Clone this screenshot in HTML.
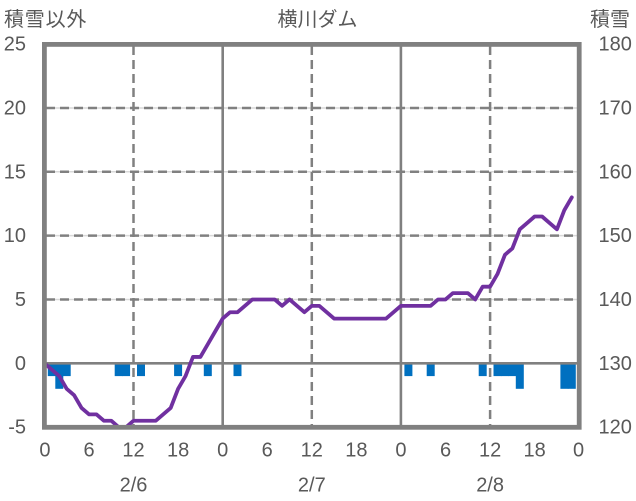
<!DOCTYPE html>
<html><head><meta charset="utf-8"><style>
html,body{margin:0;padding:0;background:#fff;}
svg{display:block;}
text{font-family:"Liberation Sans","Noto Sans CJK JP",sans-serif;fill:#595959;font-size:20px;}
.cjk{font-family:"Noto Sans CJK JP","Liberation Sans",sans-serif;}
</style></head><body>
<svg width="636" height="501" viewBox="0 0 636 501" xmlns="http://www.w3.org/2000/svg">
<rect width="636" height="501" fill="#fff"/>
<!-- horizontal grid -->
<g stroke="#d9d9d9" stroke-width="1.5">
<line x1="44.4" y1="108.0" x2="579.2" y2="108.0"/>
<line x1="44.4" y1="171.8" x2="579.2" y2="171.8"/>
<line x1="44.4" y1="235.6" x2="579.2" y2="235.6"/>
<line x1="44.4" y1="299.5" x2="579.2" y2="299.5"/>
</g>
<g stroke="#808080" stroke-width="2.5" stroke-dasharray="9 5">
<line x1="46" y1="108.0" x2="579.2" y2="108.0"/>
<line x1="46" y1="171.8" x2="579.2" y2="171.8"/>
<line x1="46" y1="235.6" x2="579.2" y2="235.6"/>
<line x1="46" y1="299.5" x2="579.2" y2="299.5"/>
<line x1="133.5" y1="46" x2="133.5" y2="427"/>
<line x1="311.8" y1="46" x2="311.8" y2="427"/>
<line x1="490.1" y1="46" x2="490.1" y2="427"/>
</g>
<g stroke="#808080" stroke-width="2.6">
<line x1="222.7" y1="44.4" x2="222.7" y2="427.2"/>
<line x1="400.9" y1="44.4" x2="400.9" y2="427.2"/>
</g>
<!-- bars -->
<g fill="#0070C0">
<rect x="47.8" y="363.3" width="8" height="12.8"/>
<rect x="55.3" y="363.3" width="8" height="25.5"/>
<rect x="62.7" y="363.3" width="8" height="12.8"/>
<rect x="114.7" y="363.3" width="8" height="12.8"/>
<rect x="122.1" y="363.3" width="8" height="12.8"/>
<rect x="137.0" y="363.3" width="8" height="12.8"/>
<rect x="174.1" y="363.3" width="8" height="12.8"/>
<rect x="203.8" y="363.3" width="8" height="12.8"/>
<rect x="233.5" y="363.3" width="8" height="12.8"/>
<rect x="404.4" y="363.3" width="8" height="12.8"/>
<rect x="426.7" y="363.3" width="8" height="12.8"/>
<rect x="478.7" y="363.3" width="8" height="12.8"/>
<rect x="493.5" y="363.3" width="8" height="12.8"/>
<rect x="500.9" y="363.3" width="8" height="12.8"/>
<rect x="508.4" y="363.3" width="8" height="12.8"/>
<rect x="515.8" y="363.3" width="8" height="25.5"/>
<rect x="560.4" y="363.3" width="8" height="25.5"/>
<rect x="567.8" y="363.3" width="8" height="25.5"/>
</g>
<!-- zero line -->
<line x1="44.4" y1="363.3" x2="579.2" y2="363.3" stroke="#808080" stroke-width="2.7"/>
<!-- series line -->
<polyline fill="none" stroke="#7030A0" stroke-width="3.8" stroke-linejoin="round" stroke-linecap="round" points="
44.4,363.3 51.83,369.68 59.26,376.07 66.68,388.83 74.11,395.21 81.54,407.98 88.97,414.36 96.40,414.36
103.82,420.74 111.25,420.74 118.68,427.13 126.11,427.13 133.54,420.74 140.96,420.74 148.39,420.74 155.82,420.74
163.25,414.36 170.68,407.98 178.10,388.83 185.53,376.07 192.96,356.92 200.39,356.92 207.82,344.15 215.24,331.39
222.67,318.62 230.10,312.24 237.53,312.24 244.96,305.86 252.38,299.48 259.81,299.48 267.24,299.48 274.67,299.48
282.10,305.86 289.52,299.48 296.95,305.86 304.38,312.24 311.81,305.86 319.24,305.86 326.66,312.24 334.09,318.62
341.52,318.62 348.95,318.62 356.38,318.62 363.80,318.62 371.23,318.62 378.66,318.62 386.09,318.62 393.52,312.24
400.94,305.86 408.37,305.86 415.80,305.86 423.23,305.86 430.66,305.86 438.08,299.48 445.51,299.48 452.94,293.09
460.37,293.09 467.80,293.09 475.22,299.48 482.65,286.71 490.08,286.71 497.51,273.95 504.94,254.8 512.36,248.41
519.79,229.27 527.22,222.88 534.65,216.5 542.08,216.5 549.50,222.88 556.93,229.27 564.36,210.12 571.79,197.36"/>
<!-- border -->
<rect x="44.4" y="44.4" width="534.8" height="382.9" fill="none" stroke="#808080" stroke-width="4.8"/>
<!-- titles -->
<text class="cjk" x="4" y="26" style="letter-spacing:0.8px">積雪以外</text>
<text class="cjk" x="317.5" y="26" text-anchor="middle">横川ダム</text>
<text class="cjk" x="630" y="26" text-anchor="end">積雪</text>
<!-- left ticks -->
<g text-anchor="end">
<text x="26" y="50.7">25</text>
<text x="26" y="114.5">20</text>
<text x="26" y="178.3">15</text>
<text x="26" y="242.1">10</text>
<text x="26" y="306">5</text>
<text x="26" y="369.8">0</text>
<text x="26" y="433.6">-5</text>
</g>
<!-- right ticks -->
<g>
<text x="598.5" y="50.7">180</text>
<text x="598.5" y="114.5">170</text>
<text x="598.5" y="178.3">160</text>
<text x="598.5" y="242.1">150</text>
<text x="598.5" y="306">140</text>
<text x="598.5" y="369.8">130</text>
<text x="598.5" y="433.6">120</text>
</g>
<!-- x ticks -->
<g text-anchor="middle">
<text x="44.9" y="456.7">0</text>
<text x="89.0" y="456.7">6</text>
<text x="133.5" y="456.7">12</text>
<text x="178.1" y="456.7">18</text>
<text x="222.7" y="456.7">0</text>
<text x="267.2" y="456.7">6</text>
<text x="311.8" y="456.7">12</text>
<text x="356.4" y="456.7">18</text>
<text x="400.9" y="456.7">0</text>
<text x="445.5" y="456.7">6</text>
<text x="490.1" y="456.7">12</text>
<text x="534.6" y="456.7">18</text>
<text x="578.5" y="456.7">0</text>
<text x="133.5" y="491.5">2/6</text>
<text x="311.8" y="491.5">2/7</text>
<text x="490.1" y="491.5">2/8</text>
</g>
</svg>
</body></html>
